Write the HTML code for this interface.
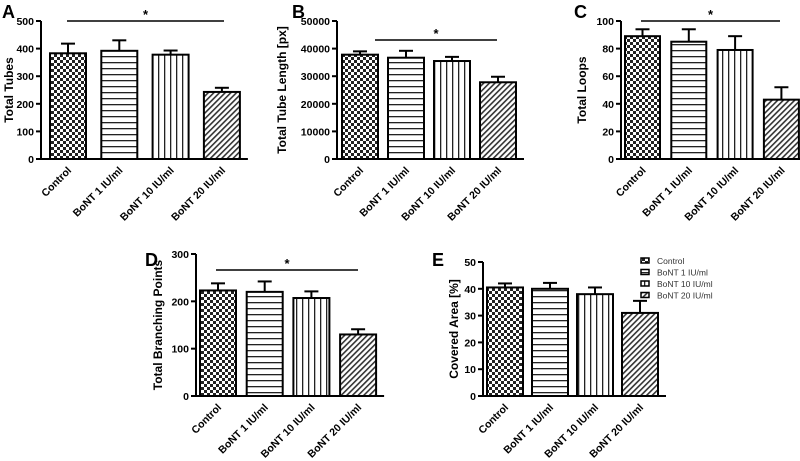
<!DOCTYPE html>
<html><head><meta charset="utf-8"><style>
body{margin:0;background:#fff;}
svg{display:block;font-family:"Liberation Sans",Arial,sans-serif;}
</style></head><body>
<svg id="chart" width="800" height="461" viewBox="0 0 800 461">
<defs>
<pattern id="p0" width="6" height="6" patternUnits="userSpaceOnUse"><rect width="6" height="6" fill="#fff"/><rect width="3" height="3" fill="#222"/><rect x="3" y="3" width="3" height="3" fill="#222"/></pattern>
<pattern id="p1" width="6" height="6" patternUnits="userSpaceOnUse"><rect width="6" height="6" fill="#fff"/><rect y="2" width="6" height="1.3" fill="#222"/></pattern>
<pattern id="p2" width="6" height="6" patternUnits="userSpaceOnUse"><rect width="6" height="6" fill="#fff"/><rect x="2" width="1.3" height="6" fill="#222"/></pattern>
<pattern id="p3" width="4" height="4" patternUnits="userSpaceOnUse" patternTransform="rotate(45)"><rect width="4" height="4" fill="#fff"/><rect width="1.6" height="4" fill="#333"/></pattern>
</defs>
</svg>
<script>
const categories=["Control","BoNT 1 IU/ml","BoNT 10 IU/ml","BoNT 20 IU/ml"];
const tubesMean=[383,392,378,243];
const tubesErr=[35,38,15,15];
const lengthMean=[37800,36700,35500,27800];
const lengthErr=[1200,2500,1500,2000];
const loopsMean=[89,85,79,43];
const loopsErr=[5,9,10,9];
const branchMean=[223,220,207,130];
const branchErr=[15,22,14,11];
const areaMean=[40.5,40,38,31];
const areaErr=[1.5,2.2,2.5,4.5];
const tubesTicks=[0,100,200,300,400,500];
const lengthTicks=[0,10000,20000,30000,40000,50000];
const loopsTicks=[0,20,40,60,80,100];
const branchTicks=[0,100,200,300];
const areaTicks=[0,10,20,30,40,50];

const NS="http://www.w3.org/2000/svg";
const svg=document.getElementById('chart');
function mk(tag,attrs,parent,text){const e=document.createElementNS(NS,tag);for(const k in attrs)e.setAttribute(k,attrs[k]);if(text!=null)e.textContent=text;(parent||svg).appendChild(e);return e;}

const panels=[
 {key:'a',letter:'A',lx:2,ly:18,ax:41,top:21,bot:159,x0:50,step:51.3,bw:36,title:'Total Tubes',tOff:28,mean:tubesMean,err:tubesErr,ticks:tubesTicks,sig:[67,224,21]},
 {key:'b',letter:'B',lx:292,ly:18,ax:337,top:21,bot:159,x0:342,step:46,bw:36,title:'Total Tube Length [px]',tOff:51,mean:lengthMean,err:lengthErr,ticks:lengthTicks,sig:[375,497,40]},
 {key:'c',letter:'C',lx:574,ly:18,ax:621,top:21,bot:159,x0:625,step:46.3,bw:35,title:'Total Loops',tOff:35,mean:loopsMean,err:loopsErr,ticks:loopsTicks,sig:[641,780,21]},
 {key:'d',letter:'D',lx:145,ly:266,ax:196,top:254,bot:396,x0:200,step:46.7,bw:36,title:'Total Branching Points',tOff:34,mean:branchMean,err:branchErr,ticks:branchTicks,sig:[216,358,270]},
 {key:'e',letter:'E',lx:432,ly:266,ax:483,top:262,bot:396,x0:487,step:45,bw:36,title:'Covered Area [%]',tOff:25,mean:areaMean,err:areaErr,ticks:areaTicks,sig:null}
];

panels.forEach(p=>{
 const g=mk('g',{},svg);
 
 
 const maxV=p.ticks[p.ticks.length-1];
 const y=v=>p.bot-(v/maxV)*(p.bot-p.top);
 const right=p.x0+3*p.step+p.bw+8;
 const lt=mk('text',{x:p.lx,y:p.ly,'font-size':18,'font-weight':'bold'},g,p.letter);
 
 
 const ya=mk('line',{x1:p.ax,y1:p.top,x2:p.ax,y2:p.bot,stroke:'#000','stroke-width':2},g);
 
 
 const xa=mk('line',{x1:p.ax-1,y1:p.bot,x2:right,y2:p.bot,stroke:'#000','stroke-width':2},g);
 
 
 p.ticks.forEach(t=>{
  mk('line',{x1:p.ax-5,y1:y(t),x2:p.ax,y2:y(t),stroke:'#000','stroke-width':2},g);
  const tl=mk('text',{x:p.ax-7,y:y(t)+4,'font-size':10.5,'font-weight':'bold','text-anchor':'end'},g,t);
  
  
 });
 const cy=(p.top+p.bot)/2;
 const tx=p.ax-p.tOff;
 const yt=mk('text',{x:tx,y:cy,'font-size':12,'font-weight':'bold','text-anchor':'middle',transform:`rotate(-90 ${tx} ${cy})`},g,p.title);
 
 
 categories.forEach((c,i)=>{
  const bx=p.x0+i*p.step, cx=bx+p.bw/2;
  const by=y(p.mean[i]), ey=y(p.mean[i]+p.err[i]);
  mk('line',{x1:cx,y1:by,x2:cx,y2:ey,stroke:'#000','stroke-width':2},g);
  mk('line',{x1:cx-7,y1:ey,x2:cx+7,y2:ey,stroke:'#000','stroke-width':2},g);
  const r=mk('rect',{x:bx,y:by,width:p.bw,height:p.bot-by,fill:`url(#p${i})`,stroke:'#000','stroke-width':2},g);
  
  
  const xl=mk('text',{x:cx+4,y:p.bot+12,'font-size':10.5,'font-weight':'bold','text-anchor':'end',transform:`rotate(-45 ${cx+4} ${p.bot+12})`},g,c);
  
  
 });
 if(p.sig){
  const sl=mk('line',{x1:p.sig[0],y1:p.sig[2],x2:p.sig[1],y2:p.sig[2],stroke:'#000','stroke-width':1.5},g);
  
  
  const st=mk('text',{x:(p.sig[0]+p.sig[1])/2,y:p.sig[2]-2,'font-size':13,'font-weight':'bold','text-anchor':'middle'},g,'*');
  
  
 }
});

const lg=mk('g',{},svg);


categories.forEach((c,i)=>{
 const yy=258+i*11.5;
 const e=mk('g',{},lg);
 
 
 mk('rect',{x:641,y:yy,width:8,height:5,fill:`url(#p${i})`,stroke:'#000','stroke-width':1.5},e);
 mk('text',{x:657,y:yy+6,'font-size':8.5,fill:'#333'},e,c);
});
</script>
</body></html>
